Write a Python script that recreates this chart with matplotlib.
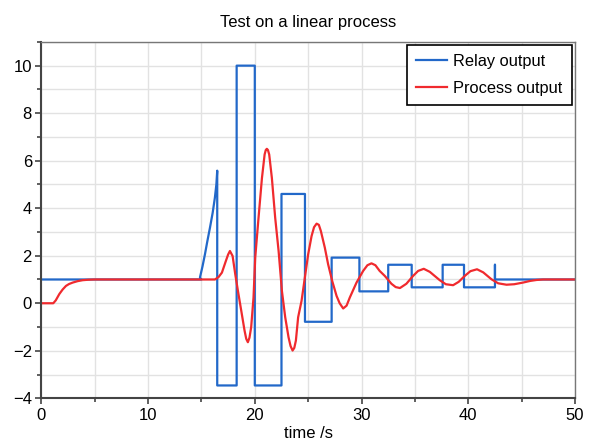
import matplotlib.pyplot as plt
from matplotlib.ticker import MultipleLocator

plt.rcParams['font.family'] = ['Liberation Sans', 'DejaVu Sans']

# relay output: level 1, ramp from 15 s, then switching between levels
relay_t = [0, 15.0, 14.86, 15.1, 15.33, 15.55, 15.8, 16.05, 16.26, 16.4, 16.48,
           16.48, 18.3, 18.3, 20.0, 20.0, 22.5, 22.5, 24.7, 24.7, 27.2, 27.2,
           29.8, 29.8, 32.5, 32.5, 34.7, 34.7, 37.6, 37.6, 39.6, 39.6, 42.5,
           42.5, 42.5, 50.0]
relay_y = [1.0, 1.0, 1.08, 1.55, 2.06, 2.6, 3.18, 3.8, 4.44, 5.0, 5.58,
           -3.46, -3.46, 10.0, 10.0, -3.46, -3.46, 4.6, 4.6, -0.78, -0.78, 1.92,
           1.92, 0.5, 0.5, 1.62, 1.62, 0.67, 0.67, 1.62, 1.62, 0.67, 0.67,
           1.62, 1.0, 1.0]

# process output
proc_t = [0, 1.12, 1.35, 1.69, 2.0, 2.31, 2.6, 2.94, 3.4, 3.87, 4.4, 4.96,
          16.26, 16.6, 16.92, 17.29, 17.5, 17.67, 17.92, 18.17, 18.42, 18.73,
          19.04, 19.2, 19.35, 19.5, 19.66, 19.88, 20.04, 20.35, 20.67, 20.92,
          21.03, 21.13, 21.23, 21.35, 21.6, 21.91, 22.23, 22.54, 22.85, 23.16,
          23.35, 23.54, 23.7, 23.85, 24.06, 24.38, 24.69, 25.0, 25.32, 25.55,
          25.79, 26.0, 26.19, 26.56, 26.87, 27.25, 27.66, 27.95, 28.28, 28.6,
          28.9, 29.53, 30.15, 30.55, 30.93, 31.3, 31.7, 32.18, 32.8, 33.2,
          33.6, 34.2, 34.83, 35.3, 35.83, 36.4, 37.33, 37.9, 38.58, 39.1,
          39.67, 40.2, 40.82, 41.4, 42.17, 42.8, 43.58, 44.3, 45.13, 45.8,
          46.4, 47.0, 50.0]
proc_y = [0.0, 0.0, 0.12, 0.39, 0.58, 0.73, 0.81, 0.87, 0.93, 0.97, 0.99, 1.0,
          1.0, 1.1, 1.29, 1.78, 2.05, 2.2, 1.99, 1.22, 0.52, -0.31,
          -1.15, -1.5, -1.64, -1.45, -1.01, 0.24, 1.92, 3.6, 5.27, 6.26,
          6.45, 6.5, 6.45, 6.26, 5.27, 3.6, 2.2, 0.52, -0.59, -1.43,
          -1.8, -1.99, -1.88, -1.57, -0.59, 0.1, 1.08, 2.06, 2.83, 3.2,
          3.35, 3.3, 3.04, 2.34, 1.64, 0.94, 0.31, 0.0, -0.22, -0.1,
          0.24, 0.87, 1.36, 1.6, 1.68, 1.6, 1.36, 1.15, 0.82, 0.68,
          0.64, 0.82, 1.15, 1.36, 1.45, 1.32, 0.97, 0.8, 0.76, 0.9,
          1.15, 1.35, 1.43, 1.3, 1.01, 0.84, 0.78, 0.8, 0.87, 0.94,
          0.98, 1.0, 1.0]

fig = plt.figure(figsize=(5.92, 4.4), dpi=100)
ax = fig.add_axes([0.0698, 0.0948, 0.9015, 0.81])

ax.plot(relay_t, relay_y, color='#2268c9', lw=1.6, label='Relay output')
ax.plot(proc_t, proc_y, color='#f02a2e', lw=1.6, label='Process output')

ax.set_xlim(0, 50)
ax.set_ylim(-4, 11)
ax.xaxis.set_major_locator(MultipleLocator(10))
ax.xaxis.set_minor_locator(MultipleLocator(5))
ax.yaxis.set_major_locator(MultipleLocator(2))
ax.yaxis.set_minor_locator(MultipleLocator(1))
ax.grid(True, which='both', color='#e2e2e2', lw=1.0)
ax.set_axisbelow(True)

ax.tick_params(which='major', direction='out', length=4.3, width=1.2,
               color='#444444', labelsize=12, pad=2.5)
ax.tick_params(which='minor', direction='out', length=3.2, width=1.2,
               color='#444444')
for side in ['left', 'bottom']:
    ax.spines[side].set_color('#444444')
    ax.spines[side].set_linewidth(1.5)
for side in ['top', 'right']:
    ax.spines[side].set_color('#777777')
    ax.spines[side].set_linewidth(1.0)

ax.set_title('Test on a linear process', fontsize=12, pad=11)
ax.set_xlabel('time /s', fontsize=12)
ax.xaxis.set_label_coords(0.5, -0.077)

leg = ax.legend(loc='upper right', fontsize=11.8, fancybox=False,
                framealpha=1, edgecolor='black', borderaxespad=0.2,
                borderpad=0.55, labelspacing=0.7,
                handlelength=1.9, handletextpad=0.4)
leg.get_frame().set_linewidth(1.2)

fig.savefig('out.png', dpi=100)
